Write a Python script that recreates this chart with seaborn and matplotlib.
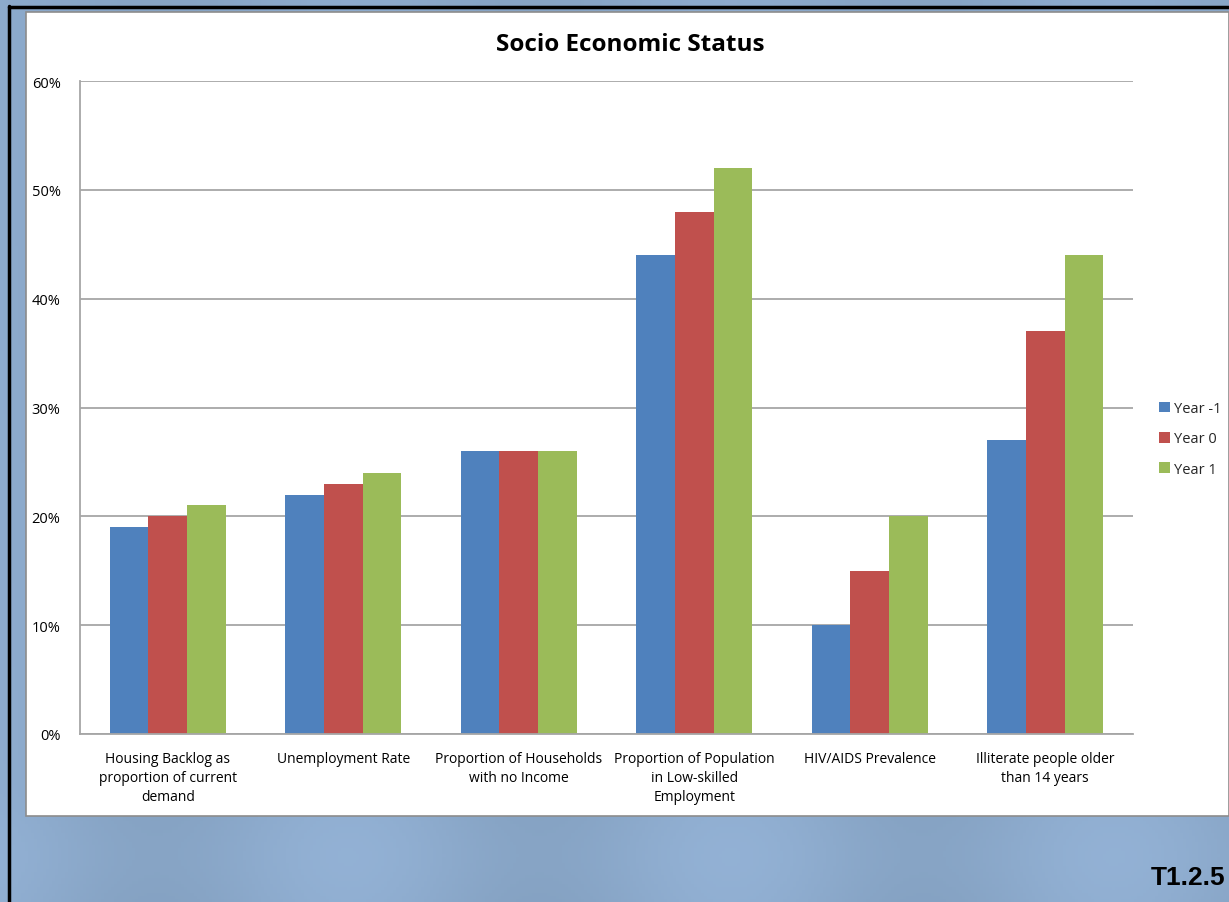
import numpy as np
import pandas as pd
import matplotlib
matplotlib.use("Agg")
import matplotlib.pyplot as plt
from matplotlib.patches import Rectangle
from matplotlib.lines import Line2D
from matplotlib.ticker import PercentFormatter
import seaborn as sns

# Indicators and yearly values (percent)
categories = [
    "Housing Backlog as\nproportion of current\ndemand",
    "Unemployment Rate",
    "Proportion of Households\nwith no Income",
    "Proportion of Population\nin Low-skilled\nEmployment",
    "HIV/AIDS Prevalence",
    "Illiterate people older\nthan 14 years",
]
year_m1 = [19, 22, 26, 44, 10, 27]
year_0 = [20, 23, 26, 48, 15, 37]
year_1 = [21, 24, 26, 52, 20, 44]
series_names = ["Year -1", "Year 0", "Year 1"]
y_ticks = [0, 10, 20, 30, 40, 50, 60]

colors = ["#4f81bd", "#c0504d", "#9bbb59"]

df = pd.DataFrame({
    "Indicator": categories * 3,
    "Value": year_m1 + year_0 + year_1,
    "Series": [s for s in series_names for _ in categories],
})

sns.set_theme(style="white")
plt.rcParams["font.family"] = ["Open Sans", "DejaVu Sans"]

W, H = 1229, 903
fig = plt.figure(figsize=(W / 100, H / 100), dpi=100)

# Slide background: soft blue gradient
bg = fig.add_axes([0, 0, 1, 1], zorder=-10)
bg.set_axis_off()
xs = np.linspace(0, 1, 400)
ys = np.linspace(0, 1, 300)
X, Y = np.meshgrid(xs, ys)
shade = (0.55 + 0.25 * np.cos(X * 2 * np.pi * 3.2 + 0.6) * (0.6 + 0.4 * Y)
         + 0.15 * np.exp(-((Y - 0.95) / 0.06) ** 2))
shade = np.clip(shade, 0, 1)
light = np.array([0.58, 0.70, 0.84])
dark = np.array([0.49, 0.60, 0.72])
img = dark[None, None, :] + (light - dark)[None, None, :] * shade[..., None]
bg.imshow(img, aspect="auto", extent=[0, 1, 0, 1], origin="upper")
bg.set_xlim(0, 1)
bg.set_ylim(0, 1)

def fx(px):
    return px / W

def fy(py):
    return 1 - py / H

# White chart panel
fig.patches.append(Rectangle((fx(26), fy(817)), fx(W) - fx(26), fy(13) - fy(817),
                             transform=fig.transFigure, facecolor="white",
                             edgecolor="#8c8c8c", linewidth=1.2, zorder=-5))
# Black frame lines
fig.lines.append(Line2D([fx(9), fx(9)], [0, fy(7)], transform=fig.transFigure,
                        color="black", linewidth=2.5, zorder=-4))
fig.lines.append(Line2D([fx(9), 1], [fy(7.5), fy(7.5)], transform=fig.transFigure,
                        color="black", linewidth=2.5, zorder=-4))

ax = fig.add_axes([fx(80), fy(735), fx(1133) - fx(80), fy(82) - fy(735)])
sns.barplot(data=df, x="Indicator", y="Value", hue="Series", palette=colors,
            width=0.66, saturation=1, ax=ax, errorbar=None, edgecolor="none")

ax.set_ylim(0, 60)
ax.set_yticks(y_ticks)
ax.yaxis.set_major_formatter(PercentFormatter(decimals=0))
ax.grid(axis="y", color="#a6a6a6", linewidth=1.3)
ax.set_axisbelow(True)
for s in ["top", "right"]:
    ax.spines[s].set_visible(False)
for s in ["left", "bottom"]:
    ax.spines[s].set_color("#a6a6a6")
    ax.spines[s].set_linewidth(1.3)
ax.set_xlabel("")
ax.set_ylabel("")
ax.tick_params(axis="x", length=0, labelsize=10, colors="black", pad=12)
ax.tick_params(axis="y", length=0, labelsize=10.5, colors="black", pad=14)
for lbl in ax.get_xticklabels():
    lbl.set_linespacing(1.4)

leg = ax.legend(loc="center left", bbox_to_anchor=(1.012, 0.452), frameon=False,
                fontsize=10.5, handlelength=0.75, handleheight=0.75,
                handletextpad=0.3, labelspacing=1.05)

fig.text(fx(630), fy(45), "Socio Economic Status", ha="center", va="center",
         fontsize=17.5, fontweight="bold", color="black")
fig.text(fx(1225), fy(878), "T1.2.5", ha="right", va="center",
         fontsize=19, fontweight="bold", family="Liberation Sans", color="black")

fig.savefig("out.png", dpi=100)
